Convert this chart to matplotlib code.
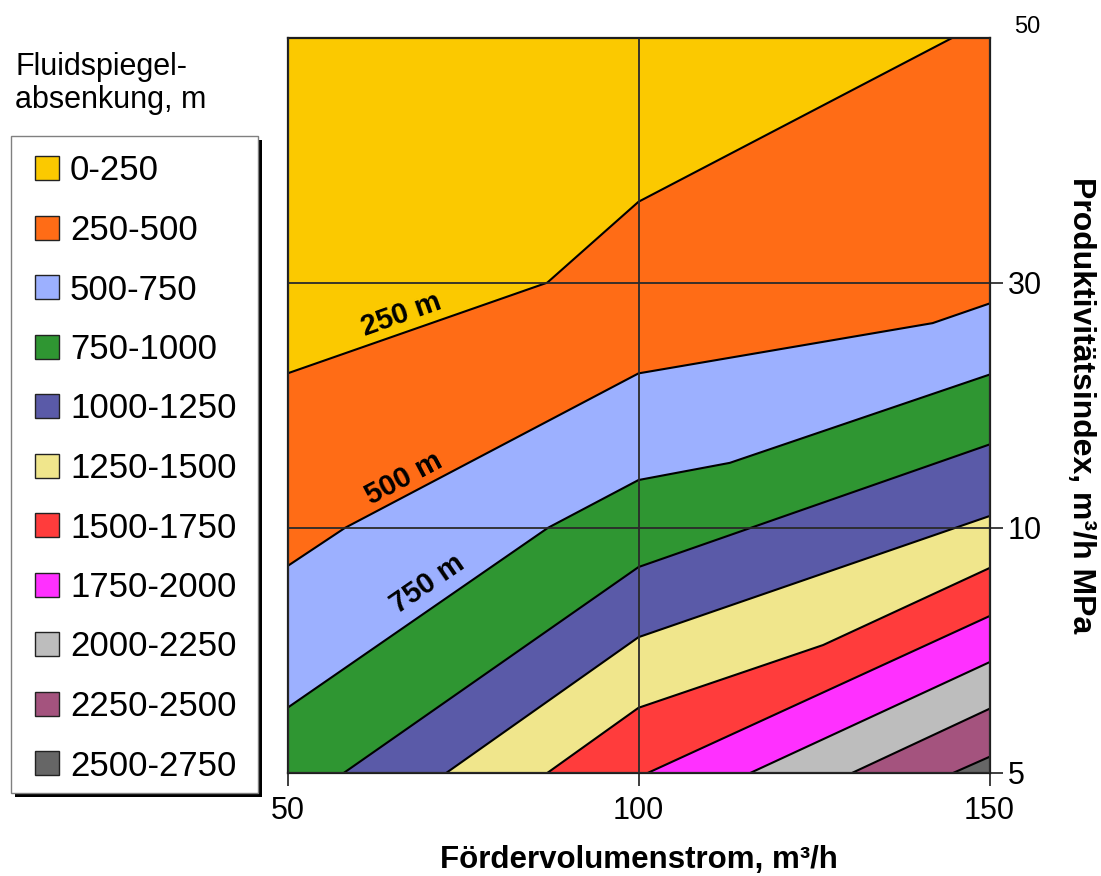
import numpy as np
import matplotlib
matplotlib.use("Agg")
import matplotlib.pyplot as plt
from matplotlib.patches import Rectangle
from matplotlib.transforms import Affine2D

plt.rcParams['font.family'] = ['Liberation Sans', 'DejaVu Sans']

# Drawdown classes (Fluidspiegelabsenkung, m) and their fill colours
band_labels = ["0-250", "250-500", "500-750", "750-1000", "1000-1250",
               "1250-1500", "1500-1750", "1750-2000", "2000-2250",
               "2250-2500", "2500-2750"]
band_colors = ["#FBC900", "#FF6C16", "#9CB0FF", "#2F9632", "#5A5AA8",
               "#F0E68C", "#FF3C3C", "#FF30FF", "#BDBDBD", "#A4537E",
               "#666666"]

# Isolines of drawdown: flow rate Q (m³/h) against productivity index PI (m³/h MPa)
iso_levels = [250, 500, 750, 1000, 1250, 1500, 1750, 2000, 2250, 2500]
iso_q = [
    [50, 87.0, 100, 144.8],
    [50, 58.2, 100, 141.9, 150],
    [50, 87.1, 100, 113.0, 150],
    [58.0, 100, 150],
    [72.6, 100, 150],
    [87.0, 100, 126.3, 150],
    [101.3, 150],
    [115.9, 150],
    [130.4, 150],
    [144.8, 150],
]
iso_pi = [
    [22.6, 30.0, 36.6, 50.0],
    [9.22, 10.0, 22.6, 26.7, 28.3],
    [6.33, 10.0, 13.9, 15.3, 22.5],
    [5.0, 9.2, 16.8],
    [5.0, 7.77, 10.96],
    [5.0, 6.33, 7.61, 9.18],
    [5.0, 8.2],
    [5.0, 7.26],
    [5.0, 6.31],
    [5.0, 5.33],
]

q_ticks = [50, 100, 150]
pi_ticks = [5, 10, 30, 50]

Q_MIN, Q_MAX = q_ticks[0], q_ticks[-1]
PI_MIN, PI_MAX = pi_ticks[0], pi_ticks[-1]

W, H = 1101, 876
fig = plt.figure(figsize=(W / 100, H / 100), dpi=100)
ax = fig.add_axes([287.5 / W, (H - 773) / H, 702 / W, 735.5 / H])

# Productivity-index axis: equal spacing between the tick values
_idx = np.arange(len(pi_ticks), dtype=float)


def _fwd(v):
    return np.interp(v, pi_ticks, _idx)


def _inv(t):
    return np.interp(t, _idx, pi_ticks)


ax.set_yscale('function', functions=(_fwd, _inv))
ax.set_xlim(Q_MIN, Q_MAX)
ax.set_ylim(PI_MIN, PI_MAX)

# Bands: paint the whole field, then each region below/right of an isoline
ax.fill([Q_MIN, Q_MAX, Q_MAX, Q_MIN], [PI_MIN, PI_MIN, PI_MAX, PI_MAX],
        color=band_colors[0], lw=0, zorder=1)
for q, p, col in zip(iso_q, iso_pi, band_colors[1:]):
    xs, ys = list(q), list(p)
    if ys[-1] >= PI_MAX and xs[-1] < Q_MAX:
        xs.append(Q_MAX)
        ys.append(PI_MAX)
    xs.append(Q_MAX)
    ys.append(PI_MIN)
    if xs[0] <= Q_MIN:
        xs.append(Q_MIN)
        ys.append(PI_MIN)
    ax.fill(xs, ys, color=col, lw=0, zorder=1)

for q, p in zip(iso_q, iso_pi):
    ax.plot(q, p, color='black', lw=1.5, zorder=2, solid_joinstyle='miter')

# Isoline labels
label_pos = {250: (66.2, 27.4, 19.5), 500: (66.6, 14.0, 28.0), 750: (70.0, 8.85, 34.5)}
for lev, (lx, ly, rot) in label_pos.items():
    ax.text(lx, ly, f"{lev} m", rotation=rot, rotation_mode='anchor',
            ha='center', va='center', fontsize=21, fontweight='bold', zorder=3)

# Axes, ticks and grid
ax.set_xticks(q_ticks)
ax.set_xticklabels([str(v) for v in q_ticks])
ax.set_yticks(pi_ticks[:-1])
ax.set_yticklabels([str(v) for v in pi_ticks[:-1]])
ax.yaxis.set_minor_locator(matplotlib.ticker.NullLocator())
ax.xaxis.set_minor_locator(matplotlib.ticker.NullLocator())
ax.tick_params(axis='x', direction='out', length=9.5, width=1.2,
               labelsize=22, pad=7, color='#1e1e1e')
ax.tick_params(axis='y', left=False, right=True, labelleft=False,
               labelright=True, direction='out', length=9.5, width=1.2,
               labelsize=22, pad=3.5, color='#1e1e1e')
ax.grid(True, color='#2a2a2a', lw=1.3)
ax.set_axisbelow(False)
for s in ax.spines.values():
    s.set_color('#1e1e1e')
    s.set_linewidth(1.6)

ax.text(1 + (1027 - 989.5) / 702, 1 + (37.5 - 33) / 735.5, str(pi_ticks[-1]),
        transform=ax.transAxes, ha='center', va='baseline', fontsize=17)

ax.set_xlabel("Fördervolumenstrom, m³/h", fontsize=22.5, fontweight='bold',
              labelpad=14)
ax.yaxis.set_label_position('right')
ax.set_ylabel("Produktivitätsindex, m³/h MPa", fontsize=23,
              fontweight='bold', rotation=270, va='center', ha='center')
ax.yaxis.set_label_coords(1 + (1081 - 989.5) / 702, 0.5)

# Legend, drawn in pixel units from the top-left corner of the figure
px = Affine2D().scale(1 / W, -1 / H).translate(0, 1) + fig.transFigure
fig.text(15, 75, "Fluidspiegel-", transform=px, va='baseline', fontsize=22)
fig.text(15, 108, "absenkung, m", transform=px, va='baseline', fontsize=22)

fig.add_artist(Rectangle((15, 140), 247, 657, transform=px,
                         facecolor='black', lw=0))
fig.add_artist(Rectangle((11, 136), 247, 657, transform=px,
                         facecolor='white', edgecolor='#808080', lw=1))
for i, (lab, col) in enumerate(zip(band_labels, band_colors)):
    yc = 168 + i * 59.5
    fig.add_artist(Rectangle((35, yc - 12), 24, 24, transform=px,
                             facecolor=col, edgecolor='#222222', lw=1))
    fig.text(70, yc + 12.5, lab, transform=px, va='baseline', fontsize=25)

fig.savefig("out.png", dpi=100)
